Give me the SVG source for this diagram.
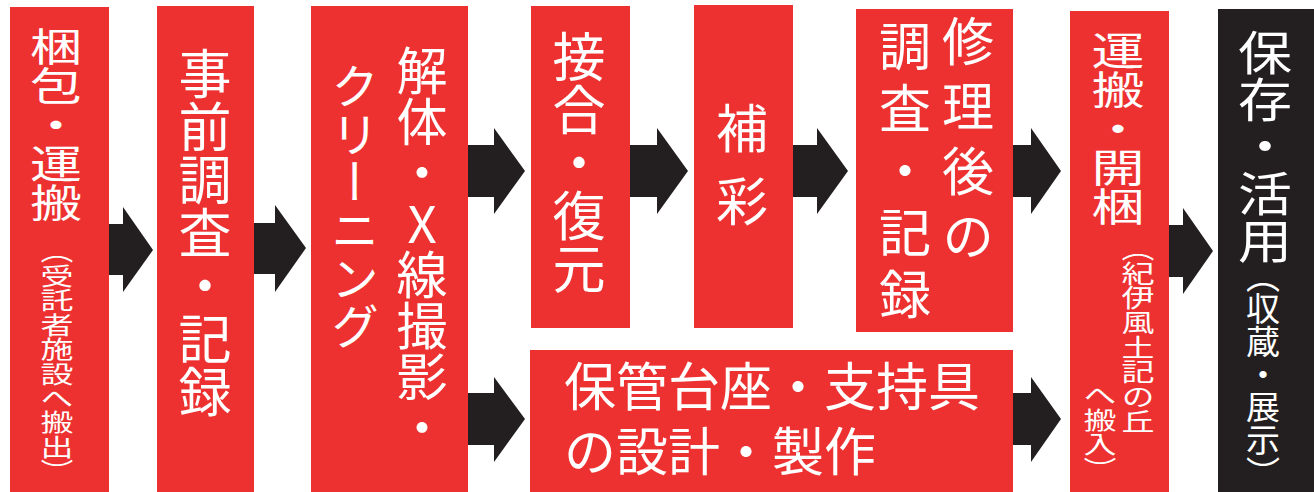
<svg xmlns="http://www.w3.org/2000/svg" width="1314" height="492" viewBox="0 0 1314 492">
<style>
.box{fill:#ed3131}
.dark{fill:#231f20}
.arr{fill:#231f20}
.t{fill:#ffffff;font-family:"Noto Sans CJK JP","Noto Sans CJK SC",sans-serif;font-weight:400}
.v{writing-mode:vertical-rl}
</style>
<rect width="1314" height="492" fill="#ffffff"/>
<g id="connectors">
<polygon class="arr" points="109,224 123,224 123,207 153,250 123,292 123,275 109,275"/>
<polygon class="arr" points="254,223 275,223 275,205 306,248 275,292 275,274 254,274"/>
<polygon class="arr" points="468,145 494,145 494,128 525,171 494,214 494,197 468,197"/>
<polygon class="arr" points="468,393 494,393 494,377 525,419 494,462 494,445 468,445"/>
<polygon class="arr" points="630,145 657,145 657,128 688,171 657,214 657,197 630,197"/>
<polygon class="arr" points="793,145 817,145 817,128 848,171 817,214 817,197 793,197"/>
<polygon class="arr" points="1013,145 1031,145 1031,128 1061,171 1031,214 1031,197 1013,197"/>
<polygon class="arr" points="1013,393 1031,393 1031,377 1061,419 1031,462 1031,445 1013,445"/>
<polygon class="arr" points="1169,225 1183,225 1183,208 1213,251 1183,294 1183,277 1169,277"/>
</g>
<g id="n1">
<rect class="box" x="10" y="7" width="99" height="485"/>
<text class="t v" font-size="52" transform="translate(56,27) scale(1,0.75)" x="0" y="0">梱包・運搬</text>
<text class="t v" font-size="33" transform="translate(57,239) scale(1,0.74)" x="0" y="0">（受託者施設へ搬出）</text>
</g>
<g id="n2">
<rect class="box" x="157" y="6" width="97" height="486"/>
<text class="t v" font-size="53" x="205" y="47">事前調査・記録</text>
</g>
<g id="n3">
<rect class="box" x="311" y="6" width="157" height="486"/>
<text class="t v" font-size="51" x="422" y="45">解体・<tspan style="text-orientation:upright">X</tspan>線撮影・</text>
<text class="t v" font-size="48" x="355" y="62">クリーニング</text>
</g>
<g id="n4">
<rect class="box" x="531" y="6" width="99" height="322"/>
<text class="t v" font-size="53" x="579" y="30">接合・復元</text>
</g>
<g id="n5">
<rect class="box" x="530" y="350" width="483" height="142"/>
<text class="t" font-size="52"><tspan x="564" y="406">保管台座・支持具</tspan><tspan x="564" y="471">の設計・製作</tspan></text>
</g>
<g id="n6">
<rect class="box" x="694" y="5" width="99" height="323"/>
<text class="t v" font-size="52" x="742" y="102" letter-spacing="21">補彩</text>
</g>
<g id="n7">
<rect class="box" x="856" y="9" width="157" height="323"/>
<text class="t v" font-size="52" x="968" y="15" letter-spacing="13">修理後の</text>
<text class="t v" font-size="52" x="905" y="20" letter-spacing="10">調査・記録</text>
</g>
<g id="n8">
<rect class="box" x="1070" y="11" width="99" height="481"/>
<text class="t v" font-size="53" transform="translate(1118,30) scale(1,0.74)" x="0" y="0">運搬・開梱</text>
<text class="t v" font-size="33" transform="translate(1138,236) scale(1,0.75)" x="0" y="0">（紀伊風土記の丘</text>
<text class="t v" font-size="33" transform="translate(1100,383) scale(1,0.74)" x="0" y="0">へ搬入）</text>
</g>
<g id="n9">
<rect class="dark" x="1218" y="9" width="96" height="483"/>
<text class="t v" font-size="54" transform="translate(1265,29) scale(1,0.87)" x="0" y="0">保存・活用</text>
<text class="t v" font-size="34" transform="translate(1263,260) scale(1,0.96)" x="0" y="0">（収蔵・展示）</text>
</g>
</svg>
